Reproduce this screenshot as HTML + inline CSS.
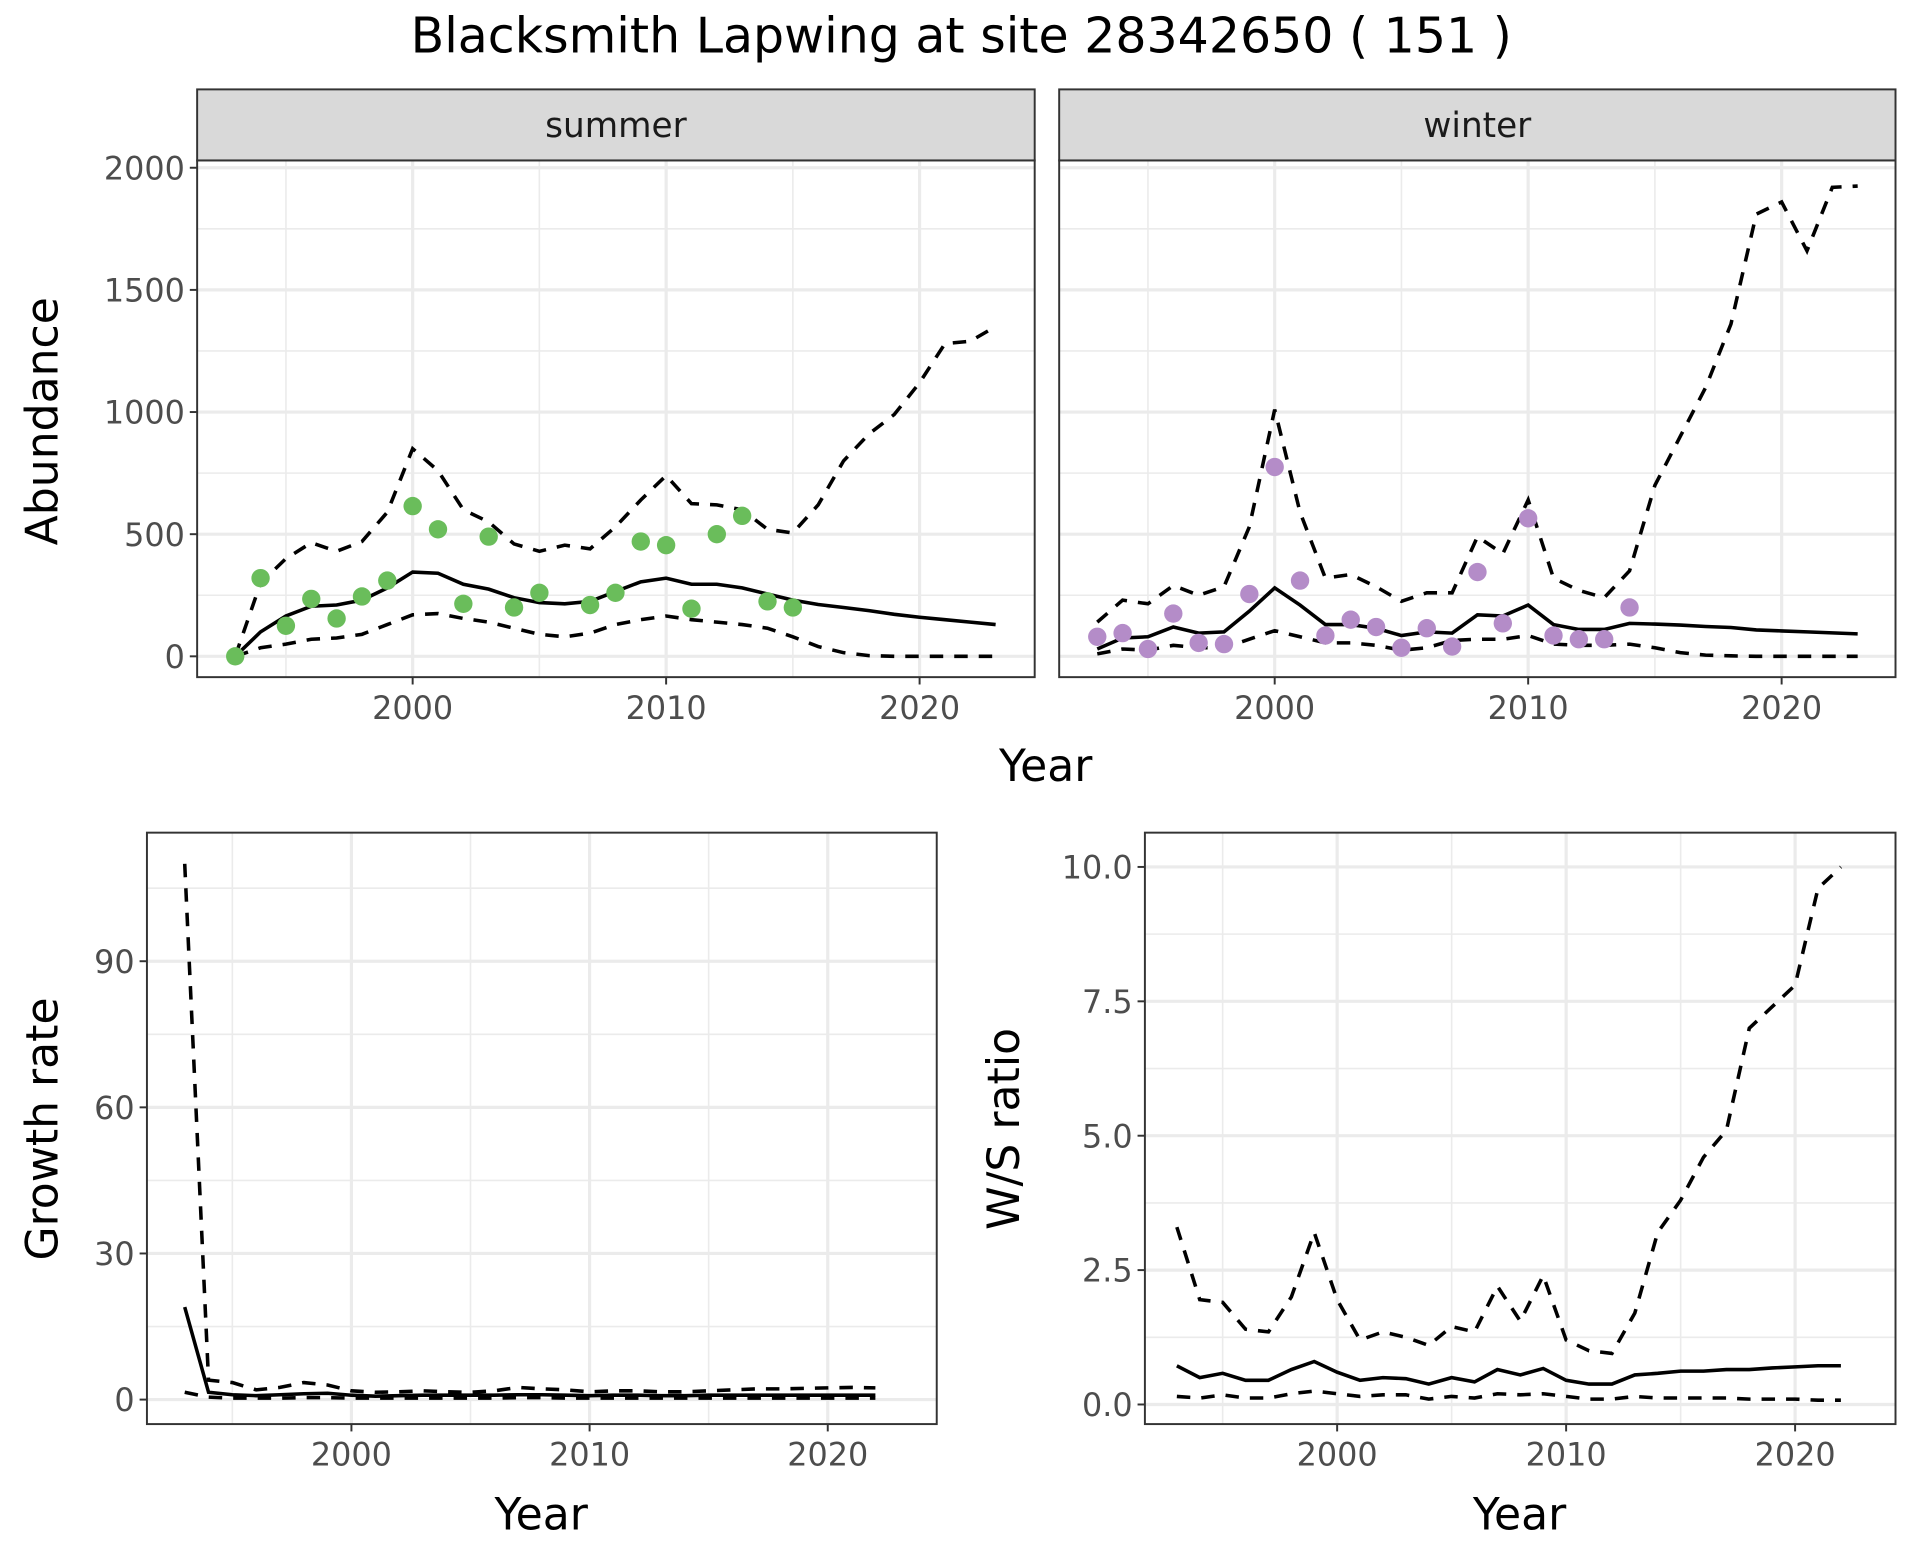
<!DOCTYPE html>
<html><head><meta charset="utf-8"><style>
html,body{margin:0;padding:0;background:#fff;}
svg{display:block;font-family:"DejaVu Sans","Liberation Sans",sans-serif;}
</style></head><body>
<svg id="chart" width="1920" height="1560" viewBox="0 0 1568 1274" xmlns="http://www.w3.org/2000/svg">
<text x="785" y="43" font-size="40" text-anchor="middle" fill="#000">Blacksmith Lapwing at site 28342650 ( 151 )</text>
</svg>
<script>
const years = [];
for (let y = 1993; y <= 2023; y++) years.push(y);
const years22 = years.slice(0, 30);

const summerPtYears = [1993,1994,1995,1996,1997,1998,1999,2000,2001,2002,2003,2004,2005,2007,2008,2009,2010,2011,2012,2013,2014,2015];
const summerPts = [0,320,125,235,155,245,310,615,520,215,490,200,260,210,260,470,455,195,500,575,225,200];
const summerMean = [0,100,165,205,210,230,280,345,340,295,275,240,220,215,225,265,305,320,295,295,280,255,230,212,200,187,172,160,150,140,130];
const summerUpper = [0,300,400,465,430,470,590,850,760,600,550,460,430,455,440,530,640,740,625,620,600,520,505,620,800,910,990,1120,1280,1290,1350];
const summerLower = [0,35,50,70,75,90,130,170,175,155,140,115,90,80,95,130,150,165,150,140,130,115,80,40,15,3,0,0,0,0,0];

const winterPtYears = [1993,1994,1995,1996,1997,1998,1999,2000,2001,2002,2003,2004,2005,2006,2007,2008,2009,2010,2011,2012,2013,2014];
const winterPts = [80,95,30,175,55,50,255,775,310,85,150,120,35,115,40,345,135,565,85,70,70,200];
const winterMean = [30,75,80,120,95,100,185,280,210,130,130,115,85,100,95,170,165,210,130,110,110,135,132,128,122,118,108,104,100,96,92];
const winterUpper = [140,230,215,290,250,285,530,1010,590,320,335,285,225,260,260,490,420,640,320,270,240,350,700,900,1100,1360,1810,1860,1660,1920,1925];
const winterLower = [10,30,25,45,35,35,70,105,80,55,55,45,25,35,65,70,70,85,50,45,45,50,35,15,5,2,0,0,0,0,0];

const growthMean = [19,1.5,1,0.8,1,1.2,1.3,0.9,0.7,0.8,0.9,0.9,0.9,0.9,1,1,0.9,0.8,0.9,0.9,0.8,0.8,0.9,0.9,0.9,0.9,0.9,0.9,0.9,0.9];
const growthUpper = [110,4,3.5,2,2.5,3.5,3,1.8,1.5,1.6,1.8,1.6,1.5,1.8,2.5,2.2,2,1.6,1.8,1.8,1.6,1.6,1.8,2,2.2,2.2,2.3,2.4,2.5,2.4];
const growthLower = [1.5,0.5,0.3,0.3,0.3,0.4,0.4,0.3,0.3,0.3,0.3,0.3,0.3,0.3,0.4,0.4,0.3,0.3,0.3,0.3,0.3,0.3,0.3,0.3,0.3,0.3,0.3,0.3,0.3,0.3];

const ratioMean = [0.72,0.5,0.58,0.45,0.45,0.65,0.8,0.6,0.45,0.5,0.48,0.38,0.5,0.42,0.65,0.55,0.67,0.45,0.38,0.38,0.55,0.58,0.62,0.62,0.65,0.65,0.68,0.7,0.72,0.72];
const ratioUpper = [3.3,1.95,1.9,1.4,1.35,2.0,3.2,1.95,1.2,1.35,1.25,1.1,1.45,1.35,2.2,1.55,2.4,1.2,1.0,0.95,1.7,3.2,3.8,4.6,5.1,7.0,7.4,7.8,9.6,10.0];
const ratioLower = [0.15,0.12,0.18,0.12,0.12,0.2,0.25,0.2,0.15,0.18,0.18,0.1,0.15,0.12,0.2,0.18,0.2,0.15,0.1,0.1,0.15,0.12,0.12,0.12,0.12,0.1,0.1,0.1,0.08,0.08];

const xTicks = [2000, 2010, 2020];
const xMinor = [1995, 2005, 2015];
const absTicks = [0, 500, 1000, 1500, 2000];
const absMinor = [250, 750, 1250, 1750];
const growthTicks = [0, 30, 60, 90];
const growthMinor = [15, 45, 75, 105];
const ratioTicks = [0, 2.5, 5, 7.5, 10];
const ratioTickLabels = ["0.0", "2.5", "5.0", "7.5", "10.0"];
const ratioMinor = [1.25, 3.75, 6.25, 8.75];

const NS = "http://www.w3.org/2000/svg";
const svg = document.getElementById("chart");
function mk(tag, attrs, parent) {
  const e = document.createElementNS(NS, tag);
  for (const k in attrs) e.setAttribute(k, attrs[k]);
  (parent || svg).appendChild(e);
  return e;
}
function linScale(d0, d1, r0, r1) { return v => r0 + (v - d0) * (r1 - r0) / (d1 - d0); }

function panel(o) {
  const g = mk("g", {});
  
  
  const X = linScale(2000, 2020, o.x2000, o.x2020);
  const Y = linScale(o.yv0, o.yv1, o.yp0, o.yp1);
  const bg = mk("rect", {x:o.L, y:o.T, width:o.R-o.L, height:o.B-o.T, fill:"#fff"}, g);
  
  
  const grid = mk("g", {}, g);
  
  
  o.yMinor.forEach(v => mk("line", {x1:o.L, x2:o.R, y1:Y(v), y2:Y(v), stroke:"#ebebeb", "stroke-width":1.3}, grid));
  xMinor.forEach(v => mk("line", {x1:X(v), x2:X(v), y1:o.T, y2:o.B, stroke:"#ebebeb", "stroke-width":1.3}, grid));
  o.yTicks.forEach(v => mk("line", {x1:o.L, x2:o.R, y1:Y(v), y2:Y(v), stroke:"#ebebeb", "stroke-width":2.6}, grid));
  xTicks.forEach(v => mk("line", {x1:X(v), x2:X(v), y1:o.T, y2:o.B, stroke:"#ebebeb", "stroke-width":2.6}, grid));
  function line(xs, vals, dashed, nm) {
    const d = vals.map((v, i) => (i ? "L" : "M") + X(xs[i]).toFixed(2) + "," + Y(v).toFixed(2)).join(" ");
    const p = mk("path", {d:d, fill:"none", stroke:"#000", "stroke-width":2.9, "stroke-dasharray": dashed ? "11,9" : "none"}, g);
    
    
  }
  line(o.xs, o.upper, true, o.name + '-upper-bound');
  line(o.xs, o.lower, true, o.name + '-lower-bound');
  line(o.xs, o.mean, false, o.name + '-mean-line');
  if (o.pts) {
    o.pts.forEach((v, i) => {
      const c = mk("circle", {cx:X(o.ptYears[i]), cy:Y(v), r:7.5, fill:o.ptColor}, g);
      
      
    });
  }
  const frame = mk("rect", {x:o.L, y:o.T, width:o.R-o.L, height:o.B-o.T, fill:"none", stroke:"#333", "stroke-width":1.6}, g);
  
  
  if (o.strip) {
    const s = mk("rect", {x:o.L, y:o.T-58, width:o.R-o.L, height:58, fill:"#d9d9d9", stroke:"#333", "stroke-width":1.6}, g);
    
    
    const st = mk("text", {x:(o.L+o.R)/2, y:o.T-19, "font-size":28, fill:"#1a1a1a", "text-anchor":"middle"}, g);
    st.textContent = o.strip;
    
    
  }
  xTicks.forEach(v => {
    mk("line", {x1:X(v), x2:X(v), y1:o.B, y2:o.B+6, stroke:"#333", "stroke-width":1.6}, g);
    const t = mk("text", {x:X(v), y:o.B+34, "font-size":26, fill:"#4d4d4d", "text-anchor":"middle"}, g);
    t.textContent = v;
    
    
  });
  if (o.showY) {
    o.yTicks.forEach((v, i) => {
      mk("line", {x1:o.L-6, x2:o.L, y1:Y(v), y2:Y(v), stroke:"#333", "stroke-width":1.6}, g);
      const t = mk("text", {x:o.L-10, y:Y(v)+9.5, "font-size":26, fill:"#4d4d4d", "text-anchor":"end"}, g);
      t.textContent = o.yLabels ? o.yLabels[i] : v;
      
      
    });
  }
}

panel({name:"summer-panel", L:161, R:845, T:131, B:553, x2000:337, x2020:751, yv0:0, yv1:2000, yp0:536, yp1:137,
  xs:years, mean:summerMean, upper:summerUpper, lower:summerLower, pts:summerPts, ptYears:summerPtYears, ptColor:"#6abd5b",
  yTicks:absTicks, yMinor:absMinor, showY:true, strip:"summer"});
panel({name:"winter-panel", L:865, R:1548, T:131, B:553, x2000:1041, x2020:1455, yv0:0, yv1:2000, yp0:536, yp1:137,
  xs:years, mean:winterMean, upper:winterUpper, lower:winterLower, pts:winterPts, ptYears:winterPtYears, ptColor:"#b48cc8",
  yTicks:absTicks, yMinor:absMinor, showY:false, strip:"winter"});
panel({name:"growth-panel", L:120, R:765, T:680, B:1163, x2000:287, x2020:676, yv0:0, yv1:90, yp0:1143, yp1:785,
  xs:years22, mean:growthMean, upper:growthUpper, lower:growthLower,
  yTicks:growthTicks, yMinor:growthMinor, showY:true});
panel({name:"ratio-panel", L:935, R:1548, T:680, B:1163, x2000:1092, x2020:1466, yv0:0, yv1:10, yp0:1147, yp1:708,
  xs:years22, mean:ratioMean, upper:ratioUpper, lower:ratioLower,
  yTicks:ratioTicks, yLabels:ratioTickLabels, yMinor:ratioMinor, showY:true});

function label(txt, x, y, rot, nm) {
  const t = mk("text", {x:x, y:y, "font-size":36, fill:"#000", "text-anchor":"middle"});
  if (rot) t.setAttribute("transform", "rotate(-90 " + x + " " + y + ")");
  t.textContent = txt;
  
  
}
label("Year", 854, 638, false, "top-x-axis-title");
label("Abundance", 47, 344, true, "abundance-y-axis-title");
label("Year", 442, 1249, false, "growth-x-axis-title");
label("Growth rate", 47, 922, true, "growth-y-axis-title");
label("Year", 1241, 1249, false, "ratio-x-axis-title");
label("W/S ratio", 832, 922, true, "ratio-y-axis-title");
</script>
</body></html>
